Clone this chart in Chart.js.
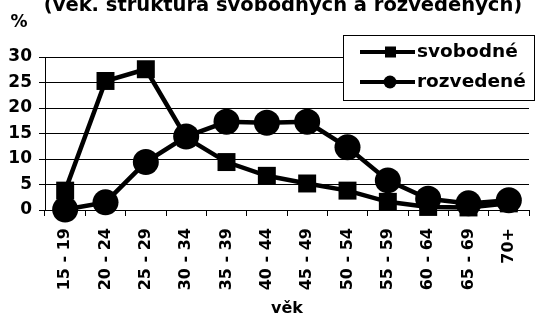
<!DOCTYPE html>
<html><head><meta charset="utf-8">
<script src="https://cdn.jsdelivr.net/npm/chart.js@4"></script>
<style>html,body{margin:0;padding:0;background:#fff}#wrap{width:536px;height:318px;position:relative}</style>
</head><body><div id="wrap"><canvas id="c" width="536" height="318"></canvas></div>
<script>
const categories = ["15 - 19","20 - 24","25 - 29","30 - 34","35 - 39","40 - 44","45 - 49","50 - 54","55 - 59","60 - 64","65 - 69","70+"];
const svobodne = [3.8, 25.3, 27.6, 14.2, 9.4, 6.7, 5.2, 3.8, 1.6, 0.6, 0.5, 1.3];
const rozvedene = [0.1, 1.5, 9.4, 14.4, 17.3, 17.1, 17.3, 12.3, 5.8, 2.2, 1.3, 1.9];
const yTicks = [0, 5, 10, 15, 20, 25, 30];
const titleText = "(věk. struktura svobodných a rozvedených)";
const seriesNames = ["svobodné", "rozvedené"];
const FONT = "'DejaVu Sans', sans-serif";

const overlay = {
  id: 'overlay',
  afterDraw(chart) {
    const ctx = chart.ctx;
    ctx.save();
    ctx.fillStyle = '#000';
    ctx.font = "bold 19.5px " + FONT;
    ctx.textAlign = 'center';
    ctx.textBaseline = 'alphabetic';
    ctx.fillText(titleText, 283, 11);
    ctx.font = "bold 17px " + FONT;
    ctx.fillText('%', 19, 27);
    // legend box
    ctx.fillStyle = '#fff';
    ctx.fillRect(343.5, 35.5, 191, 65);
    ctx.strokeStyle = '#000';
    ctx.lineWidth = 1;
    ctx.strokeRect(343.5, 35.5, 191, 65);
    const rows = [{y: 52, style: 'rect'}, {y: 82, style: 'circle'}];
    rows.forEach((r, i) => {
      ctx.strokeStyle = '#000';
      ctx.lineWidth = 4;
      ctx.beginPath(); ctx.moveTo(360, r.y); ctx.lineTo(415, r.y); ctx.stroke();
      ctx.fillStyle = '#000';
      if (r.style === 'rect') ctx.fillRect(385, r.y - 5.5, 11, 11);
      else { ctx.beginPath(); ctx.arc(390, r.y, 6.5, 0, Math.PI * 2); ctx.fill(); }
      ctx.font = "bold 18.5px " + FONT;
      ctx.textAlign = 'left';
      ctx.textBaseline = 'middle';
      ctx.fillText(seriesNames[i], 417, r.y);
    });
    ctx.restore();
  }
};

const noPad = () => ({left: 0, right: 0, top: 0, bottom: 0});

new Chart(document.getElementById('c'), {
  type: 'line',
  data: {
    labels: categories,
    datasets: [
      {label: seriesNames[0], data: svobodne, borderColor: '#000', backgroundColor: '#000', borderWidth: 4.5,
       pointStyle: 'rect', pointRadius: 12.7, pointBorderWidth: 0, pointBackgroundColor: '#000', tension: 0, clip: false},
      {label: seriesNames[1], data: rozvedene, borderColor: '#000', backgroundColor: '#000', borderWidth: 4.5,
       pointStyle: 'circle', pointRadius: 13, pointBorderWidth: 0, pointBackgroundColor: '#000', tension: 0, clip: false}
    ]
  },
  options: {
    responsive: false,
    animation: false,
    layout: {autoPadding: false, padding: {left: 0, right: 7, top: 57, bottom: 0}},
    plugins: {legend: {display: false}, title: {display: false}, tooltip: {enabled: false}},
    scales: {
      x: {
        offset: true,
        afterFit(s) { s.height = 108; s.paddingLeft = 0; s.paddingRight = 0; s.getPadding = noPad; },
        grid: {display: true, drawOnChartArea: false, drawTicks: true, tickLength: 6, offset: true, color: '#000'},
        border: {display: true, color: '#000', width: 1},
        ticks: {minRotation: 90, maxRotation: 90, autoSkip: false, padding: 12, color: '#000',
                font: {family: FONT, size: 16, weight: 'bold'}},
        title: {display: true, text: 'věk', color: '#000', padding: {top: 0, bottom: 0},
                font: {family: FONT, size: 16, weight: 'bold'}}
      },
      y: {
        min: 0, max: 30,
        afterFit(s) { s.width = 45; s.paddingTop = 0; s.paddingBottom = 0; s.getPadding = noPad; },
        afterBuildTicks(s) { s.ticks = yTicks.map(v => ({value: v})); },
        grid: {color: '#000', lineWidth: 1, drawTicks: true, tickLength: 6},
        border: {display: true, color: '#000', width: 1},
        ticks: {padding: 7, color: '#000', font: {family: FONT, size: 17, weight: 'bold'}}
      }
    }
  },
  plugins: [overlay]
});
</script></body></html>
